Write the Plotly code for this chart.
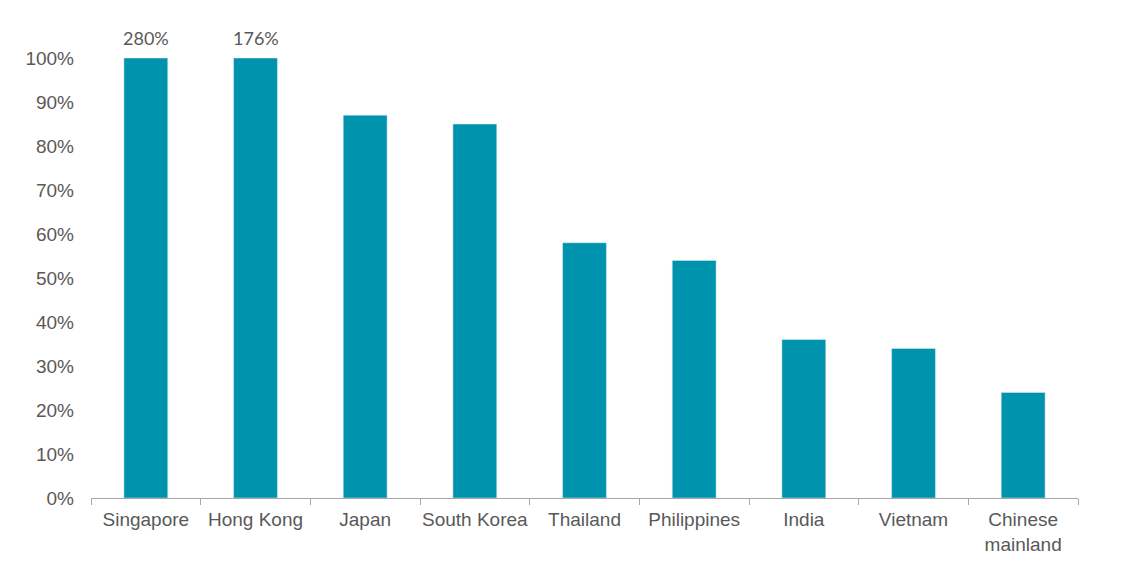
import plotly.graph_objects as go

categories = ["Singapore", "Hong Kong", "Japan", "South Korea", "Thailand",
              "Philippines", "India", "Vietnam", "Chinese<br>mainland"]
values = [280, 176, 87, 85, 58, 54, 36, 34, 24]
cap = 100
y_ticks = list(range(0, 101, 10))

plotted = [min(v, cap) for v in values]

fig = go.Figure(go.Bar(
    x=categories, y=plotted, marker_color="#0093AE", width=0.4,
    hoverinfo="skip"))

for c, v in zip(categories, values):
    if v > cap:
        fig.add_annotation(x=c, y=cap, text=f"{v}%", showarrow=False,
                           yanchor="bottom", yshift=7,
                           font=dict(family="Lato, Liberation Sans, Arial", size=18, color="#595959"))

fig.update_layout(
    width=1123, height=559,
    margin=dict(l=83, r=53, t=50, b=69),
    plot_bgcolor="white", paper_bgcolor="white",
    showlegend=False,
    font=dict(family="Liberation Sans, Arial", size=19, color="#595959"),
    bargap=0.6,
)
fig.update_xaxes(showline=True, linecolor="#A6A6A6", linewidth=1,
                 ticks="outside", tickson="boundaries", ticklen=6, tickcolor="#A6A6A6",
                 showgrid=False, tickangle=0, automargin=False, ticklabelstandoff=4,
                 tickfont=dict(size=19, color="#595959"))
fig.update_yaxes(range=[0, 100], tickvals=y_ticks, ticktext=[f"{t}%" for t in y_ticks],
                 showgrid=False, zeroline=False, showline=False, automargin=False,
                 ticklabelstandoff=16, tickfont=dict(size=19, color="#595959"))

fig.write_html("out.html")
